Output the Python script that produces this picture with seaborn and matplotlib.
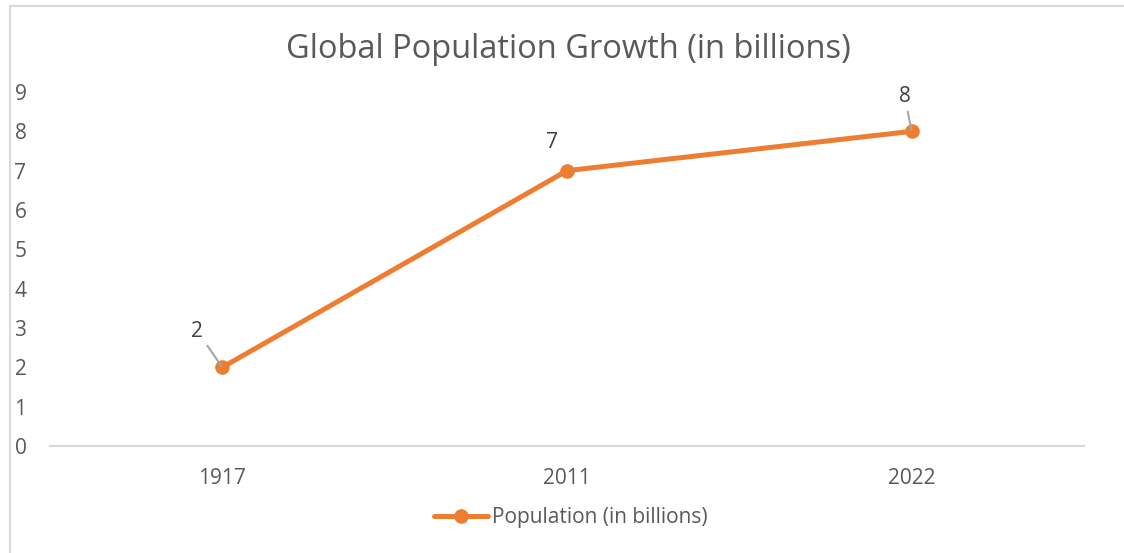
import matplotlib
matplotlib.use("Agg")
import matplotlib.pyplot as plt
from matplotlib.lines import Line2D
import seaborn as sns
import pandas as pd

years = ["1917", "2011", "2022"]
population = [2, 7, 8]
series_name = "Population (in billions)"
title = "Global Population Growth (in billions)"
y_ticks = [0, 1, 2, 3, 4, 5, 6, 7, 8, 9]

ORANGE = "#ED7D31"
TEXT = "#595959"
GRID = "#D9D9D9"

sns.set_theme(style="white")
plt.rcParams["font.family"] = ["Open Sans", "DejaVu Sans"]

df = pd.DataFrame({"Year": years, "Population": population})

fig = plt.figure(figsize=(11.24, 5.53), dpi=100)
ax = fig.add_axes([50 / 1124, 1 - 446 / 553, (1084 - 50) / 1124, (446 - 92) / 553])

sns.lineplot(data=df, x="Year", y="Population", ax=ax, color=ORANGE,
             linewidth=3.6, marker="o", markersize=10.5, markeredgewidth=0,
             label=series_name, legend=False)

ax.set_xlim(-0.5, 2.5)
ax.set_ylim(0, 9)
ax.set_yticks(y_ticks)
ax.set_yticklabels([str(t) for t in y_ticks])
ax.set_xlabel("")
ax.set_ylabel("")
for s in ["top", "right", "left"]:
    ax.spines[s].set_visible(False)
ax.spines["bottom"].set_color(GRID)
ax.spines["bottom"].set_linewidth(1.5)
ax.tick_params(axis="y", length=0, pad=17, labelsize=15, labelcolor=TEXT)
ax.tick_params(axis="x", length=0, pad=16, labelsize=15, labelcolor=TEXT)
ax.grid(False)
ax.set_facecolor("none")

# data labels
offsets = [(-18, 26, True), (-11, 20, False), (-5, 25, True)]
for i, (val, (dx, dy, leader)) in enumerate(zip(population, offsets)):
    kw = {}
    if leader:
        kw["arrowprops"] = dict(arrowstyle="-", color="#A6A6A6", lw=1.5,
                                shrinkA=1, shrinkB=1)
    ax.annotate(str(val), xy=(i, val), xytext=(dx, dy), textcoords="offset points",
                ha="center", va="center", fontsize=15, color="#404040", **kw)

fig.text(568 / 1124, 1 - 50 / 553, title, ha="center", va="center",
         fontsize=23.5, color=TEXT)

handle = Line2D([], [], color=ORANGE, linewidth=3.6, marker="o", markersize=10.5,
                markeredgewidth=0)
fig.legend([handle], [series_name], loc="center", bbox_to_anchor=(571 / 1124, 1 - 518 / 553),
           frameon=False, fontsize=15, labelcolor=TEXT, handlelength=2.6,
           handletextpad=0.2)

# chart border
fig.add_artist(Line2D([10 / 1124, 10 / 1124], [0, 1 - 6 / 553], transform=fig.transFigure,
                      color=GRID, linewidth=1.5))
fig.add_artist(Line2D([10 / 1124, 1], [1 - 6 / 553, 1 - 6 / 553], transform=fig.transFigure,
                      color=GRID, linewidth=1.5))

fig.savefig("out.png", dpi=100, facecolor="white")
